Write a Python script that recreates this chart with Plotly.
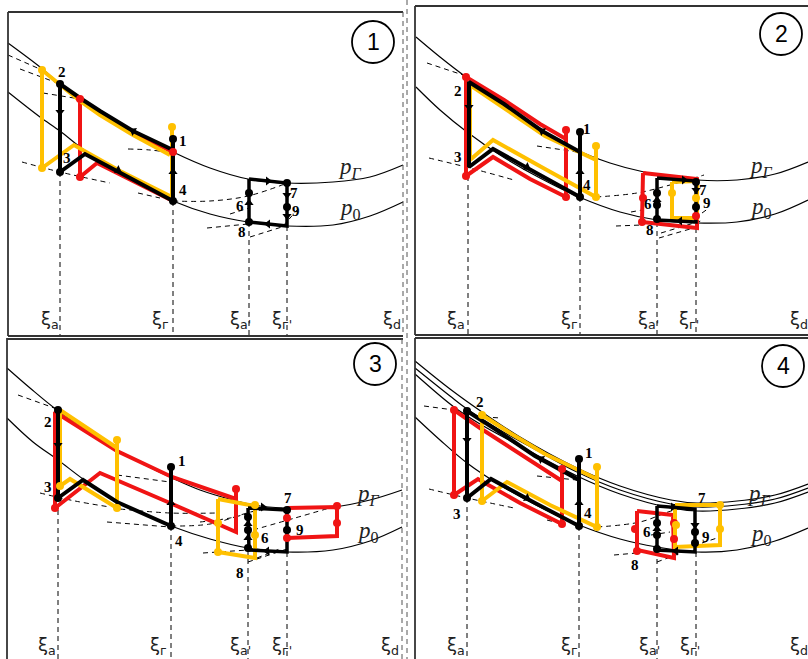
import math
import plotly.graph_objects as go

W, H = 808, 659
RED = "#f01414"
YEL = "#ffc000"
BLK = "#000000"

# ---------------- panel 1 ----------------
P1_UPPER = [(8,43),(40,67),(60,84),(80,98),(100,111),(133,131),(173,152),(210,168),(248,179),(287,183),(333,182),(370,177),(403,165)]
P1_LOWER = [(8,92),(40,117),(60,131),(80,147),(100,161),(135,182),(173,201),(210,214),(248,222),(287,226),(333,225),(370,216),(403,202)]
P1_RED = [(80,99),(80,177),(97,163),(135,182),(173,201),(173,152),(133,133),(100,113),(80,99)]
P1_YEL = [(172,127),(172,197),(120,171),(74,145),(42,168),(42,70),(80,101),(100,115),(133,135),(170,155)]
P1_BLK = [(173,139),(173,201),(130,178),(85,154),(60,172),(60,84),(80,98),(100,111),(133,131),(173,150)]
P1_SMALL = [[(249,179),(287,183),(287,226),(249,222),(249,179)]]
P1_SMALL_COL = [BLK]
P1_DOTS_BLK = [(60,84),(60,172),(173,139),(173,201),(249,193),(249,222),(287,183),(287,207)]
P1_DOTS_RED = [(80,99),(80,177),(173,152)]
P1_DOTS_YEL = [(42,70),(42,168),(172,127)]
P1_ARROWS = [(60,112,0,1),(173,172,0,-1),(133,131,-40,-22),(118,170,40,22),
             (268,181,1,0),(249,203,0,-1),(287,195,0,1),(287,216,0,1),(268,224,-1,0)]
P1_DASHED = [[(8,55),(42,70)],[(20,69),(60,84)],[(43,93),(80,99)],
             [(22,162),(60,172),(110,183)],[(128,149),(150,150),(173,153)],
             [(138,193),(160,198)],[(173,201),(210,201),(248,196),(290,182)],
             [(230,214),(249,208)],[(207,228),(248,224)],[(250,237),(285,226)],
             [(283,226),(298,209)]]
P1_VLINES = [(60,172,336),(173,201,336),(249,222,336),(287,226,336)]
P1_NUMS = [("1",183,141),("2",62,72),("3",67,158),("4",183,190),("6",240,206),("7",294,193),("8",242,232),("9",296,211)]
P1_XI_X = [50,160,240,282,392]
P1_XI_Y = 320
P1_P = [(350,168),(350,209)]
P1_CIRCLE = ("1",373,42)

# ---------------- panel 2 ----------------
P2_UPPER = [(416,37),(440,57),(466,77),(504,103),(542,130),(577,150),(610,163),(644,172),(697,180),(737,180),(775,174),(808,162)]
P2_LOWER = [(416,87),(440,110),(467,132),(500,155),(540,178),(579,197),(620,212),(657,220),(697,223),(737,222),(775,214),(808,200)]
P2_RED = [(566,130),(566,197),(530,179),(493,157),(466,176),(466,77),(504,100),(540,124),(566,139)]
P2_YEL = [(596,146),(596,197),(545,169),(493,140),(470,160),(470,85),(504,108),(545,136),(596,160)]
P2_BLK = [(580,132),(580,197),(540,175),(493,149),(469,167),(469,82),(504,104),(542,131),(580,152)]
P2_SMALL = [[(643,173),(697,179),(697,228),(642,222),(643,173)],
            [(672,182),(697,181),(697,218),(672,218),(672,182)],
            [(657,178),(696,181),(696,222),(657,220),(657,178)]]
P2_SMALL_COL = [RED, YEL, BLK]
P2_DOTS_BLK = [(580,132),(580,197),(657,193),(657,205),(657,219),(696,182),(696,207)]
P2_DOTS_RED = [(466,77),(466,176),(566,130),(566,197),(643,198),(642,222),(696,216)]
P2_DOTS_YEL = [(596,146),(596,197),(672,193),(696,198)]
P2_ARROWS = [(469,107,0,1),(580,172,0,-1),(542,131,-40,-25),(527,167,40,22),
             (684,180,1,0),(696,190,0,1),(657,200,0,-1),(680,221,-1,0)]
P2_DASHED = [[(427,63),(466,76)],[(429,158),(470,168),(514,180)],[(537,146),(577,152)],
             [(596,197),(637,193),(670,185),(704,175)],[(616,226),(642,225)],
             [(631,212),(642,210)],[(659,238),(697,227)],[(661,233),(704,220)],
             [(702,213),(709,208)]]
P2_VLINES = [(468,176,335),(580,197,335),(657,222,335),(696,228,335)]
P2_NUMS = [("1",587,129),("2",458,91),("3",458,157),("4",587,185),("6",648,204),("7",703,190),("8",650,230),("9",707,203)]
P2_XI_X = [456,569,648,689,799]
P2_XI_Y = 320
P2_P = [(761,167),(761,208)]
P2_CIRCLE = ("2",781,34)

# ---------------- panel 3 ----------------
P3_UPPER = [(7,368),(30,388),(57,410),(90,432),(117,450),(145,465),(172,478),(200,490),(233,500),(260,506),(287,508),(333,507),(370,500),(402,490)]
P3_LOWER = [(7,418),(33,442),(58,460),(83,479),(117,502),(145,515),(171,526),(210,539),(248,548),(287,552),(333,550),(370,541),(402,527)]
P3_RED = [(236,489),(236,532),(170,503),(100,473),(55,508),(55,412),(90,434),(117,451),(172,477),(236,499)]
P3_YEL = [(117,440),(117,508),(70,479),(60,486),(60,410),(117,448)]
P3_BLK = [(171,467),(171,526),(117,502),(83,480),(58,498),(58,410)]
P3_SMALL = [[(287,508),(337,507),(337,536),(287,538)],
            [(218,499),(255,506),(255,558),(218,552),(218,499)],
            [(248,508),(287,510),(287,552),(249,550),(248,508)]]
P3_SMALL_COL = [RED, YEL, BLK]
P3_DOTS_BLK = [(58,410),(58,498),(171,467),(171,526),(248,517),(248,530),(248,548),(287,510),(287,530)]
P3_DOTS_RED = [(55,508),(236,489),(287,518),(287,538),(337,506),(337,523)]
P3_DOTS_YEL = [(60,486),(117,440),(117,508),(218,523),(218,552),(255,505),(255,535)]
P3_ARROWS = [(58,445,0,1),(171,503,0,-1),(263,507,1,0),(267,551,-1,0),(248,524,0,-1),(248,538,0,-1)]
P3_DASHED = [[(18,395),(57,409)],[(40,493),(75,501),(110,507)],[(117,475),(170,482)],
             [(107,522),(170,527)],[(120,509),(170,513),(217,513)],
             [(171,526),(210,524),(255,511),(285,508)],[(200,522),(230,518),(253,512)],
             [(253,530),(295,518),(333,507)],[(203,553),(248,550)],[(248,562),(287,549)],
             [(257,558),(282,548)]]
P3_VLINES = [(58,510,659),(171,526,659),(248,550,659),(287,552,659)]
P3_NUMS = [("1",182,461),("2",48,422),("3",48,487),("4",179,541),("6",265,538),("7",288,498),("8",240,573),("9",300,530)]
P3_XI_X = [47,158,240,282,390]
P3_XI_Y = 646
P3_P = [(368,495),(368,532)]
P3_CIRCLE = ("3",375,364)

# ---------------- panel 4 ----------------
P4_UPPER_A = [(415,361),(450,389),(482,412),(520,437),(577,468),(620,486),(671,500),(697,503),(737,501),(775,495),(808,484)]
P4_UPPER_B = [(415,368),(450,396),(467,409),(500,430),(540,452),(577,472),(620,490),(671,504),(697,507),(737,505),(775,499),(808,488)]
P4_UPPER_C = [(415,374),(454,407),(480,424),(520,446),(577,476),(620,494),(671,508),(697,511),(737,509),(775,503),(808,492)]
P4_LOWER = [(415,417),(440,440),(467,463),(500,485),(540,507),(579,525),(620,539),(657,547),(697,552),(737,550),(775,541),(808,528)]
P4_RED = [(562,469),(562,524),(520,503),(478,479),(454,495),(454,410),(480,428),(515,451),(562,481)]
P4_YEL = [(597,467),(597,527),(550,505),(507,482),(482,501),(482,415),(510,433),(545,454),(597,479)]
P4_BLK = [(579,459),(579,526),(535,503),(491,479),(467,498),(467,411),(495,429),(535,456),(579,480)]
P4_SMALL = [[(637,511),(673,515),(674,558),(637,550),(637,511)],
            [(675,505),(720,505),(720,545),(675,547),(675,505)],
            [(657,506),(695,509),(695,552),(657,550),(657,506)]]
P4_SMALL_COL = [RED, YEL, BLK]
P4_DOTS_BLK = [(467,411),(467,498),(579,459),(579,526),(657,523),(657,535),(657,549),(695,532),(695,543)]
P4_DOTS_RED = [(454,410),(454,495),(562,469),(562,524),(635,529),(637,551),(674,523),(674,539)]
P4_DOTS_YEL = [(482,415),(482,501),(597,467),(597,527),(720,505),(720,529),(676,525)]
P4_ARROWS = [(467,440,0,1),(579,503,0,-1),(541,459,-40,-24),(527,498,40,22),
             (673,507,1,0),(695,525,0,1),(657,529,0,-1),(676,551,-1,0)]
P4_DASHED = [[(424,406),(454,410)],[(484,417),(501,418)],[(429,489),(467,498),(514,508)],
             [(537,476),(577,480)],[(547,520),(562,524)],
             [(597,527),(640,522),(671,511),(700,503)],[(614,555),(637,553)],
             [(651,535),(670,532)],[(657,562),(681,553)],[(702,543),(717,538)]]
P4_VLINES = [(467,498,659),(579,526,659),(657,550,659),(696,552,659)]
P4_NUMS = [("1",589,453),("2",480,402),("3",457,514),("4",588,513),("6",647,532),("7",702,498),("8",635,565),("9",706,537)]
P4_XI_X = [456,569,649,690,799]
P4_XI_Y = 646
P4_P = [(759,495),(761,535)]
P4_CIRCLE = ("4",783,366)

XI_LABELS = ["ξ<sub>а</sub>", "ξ<sub>г</sub>", "ξ<sub>а'</sub>", "ξ<sub>г'</sub>", "ξ<sub>d</sub>"]
P_LABELS = ["<i>p</i><sub><i>Г</i></sub>", "<i>p</i><sub>0</sub>"]

fig = go.Figure()


def line(pts, color=BLK, width=1.2, dash=None, shape="linear"):
    fig.add_trace(go.Scatter(
        x=[p[0] for p in pts], y=[p[1] for p in pts], mode="lines",
        line=dict(color=color, width=width, dash=dash, shape=shape),
        hoverinfo="skip", showlegend=False))


def dots(pts, color, size=8):
    fig.add_trace(go.Scatter(
        x=[p[0] for p in pts], y=[p[1] for p in pts], mode="markers",
        marker=dict(color=color, size=size, line=dict(width=0)),
        hoverinfo="skip", showlegend=False))


def arrows(items):
    xs = [a[0] for a in items]
    ys = [a[1] for a in items]
    ang = [math.degrees(math.atan2(a[2], -a[3])) for a in items]
    fig.add_trace(go.Scatter(
        x=xs, y=ys, mode="markers",
        marker=dict(symbol="triangle-up", size=8, color=BLK, angle=ang, line=dict(width=0)),
        hoverinfo="skip", showlegend=False))


panels = [
    dict(upper=[P1_UPPER], lower=P1_LOWER, red=P1_RED, yel=P1_YEL, blk=P1_BLK, small=P1_SMALL,
         small_col=P1_SMALL_COL, db=P1_DOTS_BLK, dr=P1_DOTS_RED, dy=P1_DOTS_YEL, arrows=P1_ARROWS,
         dashed=P1_DASHED, vlines=P1_VLINES, nums=P1_NUMS, xi_x=P1_XI_X, xi_y=P1_XI_Y,
         p=P1_P, circle=P1_CIRCLE),
    dict(upper=[P2_UPPER], lower=P2_LOWER, red=P2_RED, yel=P2_YEL, blk=P2_BLK, small=P2_SMALL,
         small_col=P2_SMALL_COL, db=P2_DOTS_BLK, dr=P2_DOTS_RED, dy=P2_DOTS_YEL, arrows=P2_ARROWS,
         dashed=P2_DASHED, vlines=P2_VLINES, nums=P2_NUMS, xi_x=P2_XI_X, xi_y=P2_XI_Y,
         p=P2_P, circle=P2_CIRCLE),
    dict(upper=[P3_UPPER], lower=P3_LOWER, red=P3_RED, yel=P3_YEL, blk=P3_BLK, small=P3_SMALL,
         small_col=P3_SMALL_COL, db=P3_DOTS_BLK, dr=P3_DOTS_RED, dy=P3_DOTS_YEL, arrows=P3_ARROWS,
         dashed=P3_DASHED, vlines=P3_VLINES, nums=P3_NUMS, xi_x=P3_XI_X, xi_y=P3_XI_Y,
         p=P3_P, circle=P3_CIRCLE),
    dict(upper=[P4_UPPER_A, P4_UPPER_B, P4_UPPER_C], lower=P4_LOWER, red=P4_RED, yel=P4_YEL, blk=P4_BLK,
         small=P4_SMALL, small_col=P4_SMALL_COL, db=P4_DOTS_BLK, dr=P4_DOTS_RED, dy=P4_DOTS_YEL,
         arrows=P4_ARROWS, dashed=P4_DASHED, vlines=P4_VLINES, nums=P4_NUMS, xi_x=P4_XI_X,
         xi_y=P4_XI_Y, p=P4_P, circle=P4_CIRCLE),
]

annotations = []
shapes = []

for pn in panels:
    for u in pn["upper"]:
        line(u, width=1.2, shape="spline")
    line(pn["lower"], width=1.2, shape="spline")
    for d in pn["dashed"]:
        line(d, width=1, dash="5px,4px", shape="spline")
    for (x, y0, y1) in pn["vlines"]:
        line([(x, y0), (x, y1)], width=1, dash="5px,4px")
    line(pn["red"], RED, 4)
    line(pn["yel"], YEL, 4)
    line(pn["blk"], BLK, 4)
    for s, c in zip(pn["small"], pn["small_col"]):
        line(s, c, 3.5 if c == BLK else 4)
    dots(pn["dr"], RED)
    dots(pn["dy"], YEL)
    dots(pn["db"], BLK)
    arrows(pn["arrows"])
    for (t, x, y) in pn["nums"]:
        annotations.append(dict(x=x, y=y, text="<b>%s</b>" % t, showarrow=False,
                                font=dict(family="Liberation Serif", size=15, color=BLK)))
    for lab, x in zip(XI_LABELS, pn["xi_x"]):
        annotations.append(dict(x=x, y=pn["xi_y"], text=lab, showarrow=False,
                                font=dict(family="DejaVu Sans", size=18, color="#222")))
    for lab, (x, y) in zip(P_LABELS, pn["p"]):
        annotations.append(dict(x=x, y=y, text=lab, showarrow=False,
                                font=dict(family="Liberation Serif", size=23, color="#222")))
    t, cx, cy = pn["circle"]
    shapes.append(dict(type="circle", xref="x", yref="y", x0=cx - 21, x1=cx + 21, y0=cy - 21, y1=cy + 21,
                       line=dict(color=BLK, width=1.8)))
    annotations.append(dict(x=cx, y=cy, text=t, showarrow=False,
                            font=dict(family="Liberation Sans", size=23, color=BLK)))

# panel frames
FRAMES_SOLID = [[(8,12),(8,336)], [(8,12),(403,12)], [(8,336),(403,336)],
                [(415,6),(415,335)], [(415,6),(808,6)], [(415,335),(808,335)],
                [(7,338),(7,659)], [(7,339),(403,339)],
                [(415,338),(415,659)], [(415,338),(808,338)]]
FRAMES_DASHED = [[(403,12),(403,336)], [(402,339),(402,659)], [(407,0),(407,659)]]
for f in FRAMES_SOLID:
    line(f, "#333", 1.8)
for f in FRAMES_DASHED:
    line(f, "#555", 1, dash="5px,4px")

fig.update_layout(
    width=W, height=H, margin=dict(l=0, r=0, t=0, b=0),
    paper_bgcolor="white", plot_bgcolor="white", showlegend=False,
    xaxis=dict(range=[0, W], visible=False, fixedrange=True),
    yaxis=dict(range=[H, 0], visible=False, fixedrange=True),
    annotations=annotations, shapes=shapes,
)
fig.write_html("out.html", config={"displayModeBar": False},
               post_script="document.body.style.margin='0';document.body.style.overflow='hidden';")
